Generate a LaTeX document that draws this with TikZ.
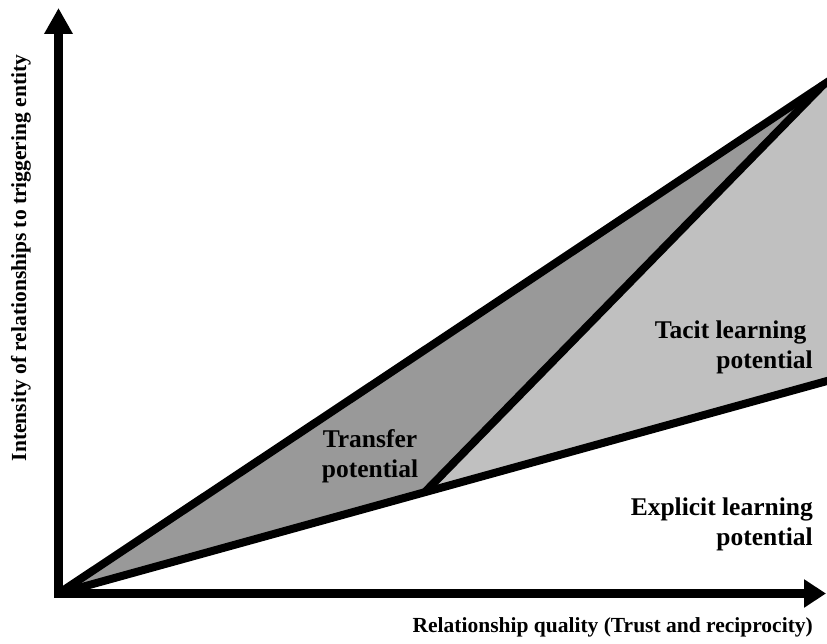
\documentclass[tikz,border=0pt]{standalone}
\usepackage{fontspec}
\setmainfont{Liberation Serif}
\usetikzlibrary{arrows.meta,calc}
\definecolor{transfergray}{RGB}{153,153,153}
\definecolor{tacitgray}{RGB}{192,192,192}
\begin{document}
\begin{tikzpicture}[x=1pt,y=-1pt,
  boundary/.style={line width=8pt, black},
  axisline/.style={line width=8.5pt, line join=miter,
    {Triangle[length=26pt,width=27pt]}-{Triangle[length=22pt,width=27pt]}},
  regionlabel/.style={font=\bfseries\fontsize{25.5}{30}\selectfont, inner sep=0pt},
  axislabel/.style={font=\bfseries\fontsize{21.5}{25}\selectfont, inner sep=0pt}]
\useasboundingbox (0,0) rectangle (827,644);

% key points
\coordinate (O)  at (58.5,593.5);   % origin
\coordinate (Yt) at (58.5,8);       % tip of the vertical axis
\coordinate (Xt) at (826,593.5);    % tip of the horizontal axis
\coordinate (T)  at (823,85);       % apex where the upper lines meet
\coordinate (U)  at (835,77);       % upper boundary, past the right edge
\coordinate (L)  at (835,378.8);    % lower boundary, past the right edge
\coordinate (M)  at (425,492);      % foot of the dividing line

\begin{scope}
  \clip (0,0) rectangle (827,644);
  % shaded regions
  \fill[transfergray] (O) -- (T) -- (M) -- cycle;
  \fill[tacitgray] (M) -- (T) -- (U) -- (L) -- cycle;
  % region boundaries
  \draw[boundary] (O) -- (U);
  \draw[boundary] (O) -- (L);
  \draw[boundary] (M) -- (T);
\end{scope}

% axes
\draw[axisline] (Yt) -- (O) -- (Xt);

% labels (a multi-line node sits on the baseline of its last line)
\node[regionlabel, anchor=base, align=center] (transfer) at (370,477)
  {Transfer\\potential};
\node[regionlabel, anchor=base east, align=right] (tacit) at (813,368)
  {Tacit learning\kern6.5pt\\potential};
\node[regionlabel, anchor=base east, align=right] (explicit) at (813,545)
  {Explicit learning\\potential};
\node[axislabel, anchor=base east] (xlabel) at (813,632)
  {Relationship quality (Trust and reciprocity)};
\node[axislabel, rotate=90] (ylabel) at (21,258)
  {Intensity of relationships to triggering entity};
\end{tikzpicture}
\end{document}
